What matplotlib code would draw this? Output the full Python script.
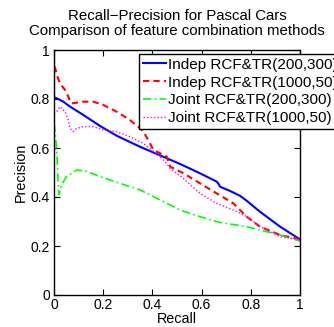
import matplotlib
matplotlib.use("Agg")
import matplotlib.pyplot as plt

plt.rcParams['font.family'] = ['Liberation Sans', 'DejaVu Sans']

# Indep RCF&TR(200,300)
blue_x = [0.0, 0.0, 0.004, 0.011, 0.038, 0.065, 0.119, 0.187, 0.255, 0.322, 0.35, 0.431, 0.512,
          0.593, 0.661, 0.668, 0.675, 0.715, 0.756, 0.783, 0.837, 0.919, 1.0]
blue_y = [1.0, 0.81, 0.805, 0.803, 0.789, 0.769, 0.735, 0.69, 0.65, 0.618, 0.605, 0.57, 0.535,
          0.497, 0.463, 0.455, 0.442, 0.425, 0.405, 0.385, 0.34, 0.279, 0.227]

# Indep RCF&TR(1000,50)
red_x = [0.0, 0.004, 0.011, 0.024, 0.045, 0.058, 0.068, 0.072, 0.119, 0.16, 0.2, 0.255, 0.309,
         0.35, 0.363, 0.39, 0.404, 0.458, 0.472, 0.526, 0.593, 0.661, 0.729, 0.783, 0.837,
         0.919, 1.0]
red_y = [0.93, 0.93, 0.9, 0.864, 0.837, 0.81, 0.785, 0.782, 0.789, 0.789, 0.776, 0.748, 0.714,
         0.68, 0.668, 0.619, 0.592, 0.565, 0.524, 0.497, 0.456, 0.415, 0.374, 0.32, 0.279,
         0.245, 0.227]

# Joint RCF&TR(200,300)
green_x = [0.0, 0.004, 0.011, 0.018, 0.021, 0.03, 0.051, 0.092, 0.133, 0.187, 0.321, 0.35,
           0.431, 0.512, 0.593, 0.675, 0.783, 0.837, 0.919, 1.0]
green_y = [0.70, 0.673, 0.592, 0.429, 0.41, 0.45, 0.483, 0.51, 0.505, 0.483, 0.438, 0.429,
           0.388, 0.347, 0.32, 0.296, 0.279, 0.265, 0.245, 0.22]

# Joint RCF&TR(1000,50)
mag_x = [0.0, 0.011, 0.024, 0.045, 0.058, 0.065, 0.078, 0.092, 0.119, 0.16, 0.2, 0.255, 0.309,
         0.35, 0.363, 0.431, 0.458, 0.472, 0.526, 0.593, 0.661, 0.729, 0.783, 0.837, 0.919, 1.0]
mag_y = [0.74, 0.748, 0.769, 0.748, 0.714, 0.68, 0.667, 0.68, 0.687, 0.687, 0.673, 0.667, 0.646,
         0.625, 0.619, 0.565, 0.537, 0.517, 0.476, 0.415, 0.374, 0.347, 0.32, 0.28, 0.238, 0.225]

labels = ['Indep RCF&TR(200,300)', 'Indep RCF&TR(1000,50)',
          'Joint RCF&TR(200,300)', 'Joint RCF&TR(1000,50)']

fig = plt.figure(figsize=(3.34, 3.27), dpi=100)
ax = fig.add_axes([54 / 334, 1 - 295 / 327, 246 / 334, 245 / 327])

ax.plot(blue_x, blue_y, color=(0, 0, 1), lw=1.5, ls='-', label=labels[0])
ax.plot(red_x, red_y, color=(1, 0, 0), lw=1.5, ls=(0, (3, 2)), label=labels[1])
ax.plot(green_x, green_y, color=(0, 1, 0), lw=1.2, ls=(0, (5, 2, 1, 2)), label=labels[2])
ax.plot(mag_x, mag_y, color=(1, 0, 1), lw=1.0, ls=(0, (1, 1.5)), label=labels[3])

ax.set_xlim(0, 1)
ax.set_ylim(0, 1)
ticks = [0, 0.2, 0.4, 0.6, 0.8, 1]
ticklabels = ['0', '0.2', '0.4', '0.6', '0.8', '1']
ax.set_xticks(ticks)
ax.set_xticklabels(ticklabels)
ax.set_yticks(ticks)
ax.set_yticklabels(ticklabels)
ax.tick_params(direction='in', top=True, right=True, labelsize=10, length=4)
ax.tick_params(axis='x', pad=2)
ax.tick_params(axis='y', pad=3)
for s in ax.spines.values():
    s.set_linewidth(1.0)

ax.set_xlabel('Recall', fontsize=10.4, labelpad=0)
ax.set_ylabel('Precision', fontsize=10.4, labelpad=2)
ax.set_title('Recall\u2212Precision for Pascal Cars\nComparison of feature combination methods',
             fontsize=10.8, pad=11, linespacing=1.05)

# legend runs past the right edge, as in the original
leg = ax.legend(loc='upper left', bbox_to_anchor=(0.346, 0.984), fontsize=11,
                fancybox=False, edgecolor='black', framealpha=1,
                borderpad=0.25, labelspacing=0.25, handlelength=1.5,
                handletextpad=0.15, borderaxespad=0)
leg.get_frame().set_linewidth(1.0)

fig.savefig('out.png', dpi=100)
